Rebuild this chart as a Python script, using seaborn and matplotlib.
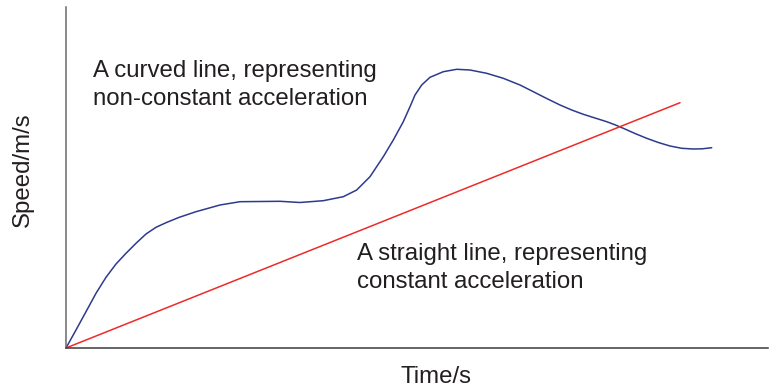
import numpy as np
import pandas as pd
import seaborn as sns
import matplotlib.pyplot as plt

# curved line (non-constant acceleration)
time_curve = [0, 10, 20, 30, 40, 50, 60, 70, 80, 90, 100, 113.3, 130, 154, 174, 194, 214,
              234, 257.3, 277.3, 290.7, 304, 317.3, 327.3, 337.3, 344, 349, 355.7, 364,
              377.3, 390.7, 404, 420.7, 437.3, 454, 467.3, 480.7, 494, 505.7, 517.3, 529,
              540.7, 549, 557.3, 569, 580.7, 592.3, 604, 615.7, 627.3, 636.5, 645.7]
speed_curve = [0, 18, 36.3, 54.7, 70.7, 84, 94.7, 104.7, 114, 120.7, 125.3, 130.7, 136.3,
               143, 146.3, 146.5, 146.7, 145.5, 147.3, 151.3, 158, 171.3, 191.3, 208,
               226.3, 241.3, 253, 263, 270.7, 276.3, 278.7, 278, 274.7, 269.7, 263, 256.3,
               249.5, 243, 238, 233.7, 230, 226.3, 223.2, 219.7, 214.5, 209.7, 205.5, 202,
               199.7, 199, 199.2, 200.3]

# straight line (constant acceleration)
time_line = [0, 614]
speed_line = [0, 245.3]

sns.set_style("white")
plt.rcParams['font.family'] = ['Liberation Sans', 'DejaVu Sans']

fig = plt.figure(figsize=(7.7, 3.92), dpi=100)
ax = fig.add_axes([66 / 770, 44 / 392, 702 / 770, 341 / 392])

curve = pd.DataFrame({"time": time_curve, "speed": speed_curve})
line = pd.DataFrame({"time": time_line, "speed": speed_line})
sns.lineplot(data=curve, x="time", y="speed", color="#2e3a8c", linewidth=1.1, sort=False, ax=ax)
sns.lineplot(data=line, x="time", y="speed", color="#ee2a2a", linewidth=1.1, ax=ax)

ax.set_xlim(0, 702)
ax.set_ylim(0, 341)
ax.set_xticks([])
ax.set_yticks([])
ax.set_xlabel("")
ax.set_ylabel("")
ax.spines["top"].set_visible(False)
ax.spines["right"].set_visible(False)
ax.spines["left"].set_color("#6a6a6a")
ax.spines["bottom"].set_color("#3a3a3a")
ax.spines["left"].set_linewidth(1.1)
ax.spines["bottom"].set_linewidth(1.1)

fs = 17.3
txt = dict(fontsize=fs, color="#231f20", va="baseline", ha="left")
ax.text(27, 271.3, "A curved line, representing", **txt)
ax.text(27, 243, "non-constant acceleration", **txt)
ax.text(291, 88, "A straight line, representing", **txt)
ax.text(291, 60, "constant acceleration", **txt)

fig.text(436 / 770, 1 - 377 / 392, "Time/s", fontsize=fs, color="#231f20", ha="center", va="center")
fig.text(23 / 770, 1 - 170 / 392, "Speed/m/s", fontsize=fs, color="#231f20",
         ha="center", va="center", rotation=90)

fig.savefig("out.png", dpi=100)
